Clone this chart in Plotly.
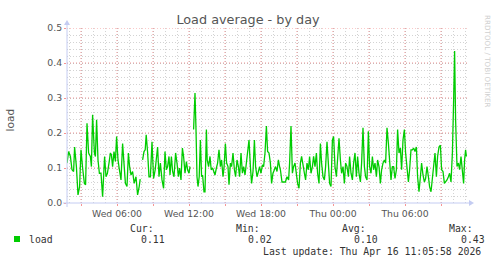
import plotly.graph_objects as go
import pandas as pd

# ---- data (minutes since Wed 2026-04-15 00:00, load average) ----
minutes = [
    110, 118, 127, 135, 143, 148, 157, 165, 173, 180, 188, 197, 203, 210, 218, 227, 232, 238, 247, 252,
    258, 265, 272, 280, 288, 293, 298, 305, 312, 320, 327, 332, 338, 345, 352, 358, 365, 372, 380, 388,
    395, 402, 410, 417, 423,
    430, 438, 446, 455, 463, 471, 476, 480, 488, 495, 501, 506, 513, 520, 527, 535, 543, 551, 563, 570,
    577, 585, 593, 600, 607, 613, 620, 625, 632, 638, 645, 653, 660, 667, 673, 680, 687, 693, 700, 707,
    713, 720, 725, 733, 743, 750, 755, 760, 765, 771, 777, 783, 788, 795, 800, 807, 811, 818, 825, 831,
    838, 845, 850, 857, 863, 870, 877, 883, 890, 895, 902, 908, 915, 920, 927, 933, 940, 947, 953, 960,
    967, 973, 980, 987, 993, 1000, 1005, 1013, 1020, 1027, 1033, 1040, 1047, 1053, 1060, 1067, 1073, 1080,
    1087, 1093, 1100, 1107, 1113, 1120, 1127, 1133, 1140, 1147, 1153, 1160, 1167, 1173,
    1177, 1185, 1193, 1202, 1210, 1218, 1223, 1230, 1237, 1243, 1250, 1257, 1263, 1270, 1277, 1283, 1290,
    1297, 1303, 1310, 1317, 1323, 1330, 1337, 1343, 1350, 1357, 1363, 1370, 1377, 1383, 1390, 1397, 1403,
    1410, 1417, 1423, 1430, 1437, 1443, 1450, 1457, 1463, 1470, 1477, 1483, 1490, 1497, 1503, 1510, 1517,
    1523, 1530, 1537, 1543, 1550, 1557, 1563, 1570, 1577, 1583, 1590, 1597, 1603, 1610, 1617, 1623, 1630,
    1637, 1643, 1650, 1657, 1663, 1670, 1677, 1683, 1690, 1697, 1703, 1710, 1717, 1723, 1730, 1737, 1743,
    1750, 1757, 1763, 1770, 1777, 1783, 1790, 1797, 1803, 1810, 1817, 1823, 1830, 1837, 1843, 1850, 1857,
    1863, 1870, 1877, 1883, 1890, 1897, 1903, 1910, 1917, 1923, 1930, 1937, 1943, 1950, 1957, 1963, 1970,
    1977, 1983, 1990, 1997, 2003, 2010, 2017, 2023, 2030, 2037, 2043, 2048, 2053, 2060, 2067, 2073, 2080,
    2087, 2093, 2098, 2103, 2107,
]
load = [
    0.114, 0.147, 0.133, 0.095, 0.090, 0.160, 0.104, 0.023, 0.047, 0.152, 0.100, 0.056, 0.052, 0.228, 0.143, 0.133, 0.104, 0.252, 0.143, 0.133,
    0.238, 0.123, 0.085, 0.085, 0.018, 0.075, 0.133, 0.075, 0.085, 0.114, 0.143, 0.138, 0.104, 0.147, 0.119, 0.190, 0.123, 0.095, 0.066, 0.170,
    0.095, 0.056, 0.047, 0.143, 0.104,
    0.080, 0.090, 0.056, 0.075, 0.023, 0.047, 0.068, None, 0.123, 0.147, 0.152, 0.195, 0.145, 0.075, 0.075, 0.175, 0.070, 0.095, 0.160, 0.075,
    0.114, 0.066, 0.042, 0.147, 0.095, 0.104, 0.133, 0.080, 0.133, 0.090, 0.075, 0.143, 0.114, 0.075, 0.100, 0.066, 0.157, 0.133, 0.085, 0.118,
    0.095, 0.085, 0.104, None, 0.210, 0.314, 0.210, 0.075, 0.047, 0.075, 0.180, 0.075, 0.080, 0.032, 0.032, 0.210, 0.123, 0.104, 0.133, 0.095,
    0.100, 0.090, 0.080, 0.100, 0.114, 0.152, 0.104, 0.123, 0.075, 0.100, 0.170, 0.114, 0.104, 0.052, 0.114, 0.104, 0.143, 0.095, 0.075, 0.123,
    0.104, 0.075, 0.143, 0.085, 0.104, 0.080, 0.104, 0.143, 0.180, 0.104, 0.056, 0.090, 0.180, 0.104, 0.075, 0.090, 0.104, 0.085,
    0.109, 0.104, 0.143, 0.220, 0.147, 0.143, 0.114, 0.056, 0.085, 0.095, 0.104, 0.090, 0.123, 0.104,
    0.095, 0.060, 0.060, 0.060, 0.075, 0.066, 0.114, 0.220, 0.085, 0.104, 0.114, 0.080, 0.056, 0.042, 0.114, 0.133, 0.104,
    0.085, 0.066, 0.114, 0.095, 0.133, 0.085, 0.104, 0.133, 0.104, 0.143, 0.085, 0.056, 0.170, 0.114, 0.075, 0.066, 0.104,
    0.175, 0.095, 0.056, 0.047, 0.180, 0.190, 0.104, 0.075, 0.123, 0.185, 0.123, 0.085, 0.104, 0.056, 0.114, 0.104, 0.075,
    0.133, 0.085, 0.066, 0.114, 0.143, 0.075, 0.133, 0.085, 0.060, 0.114, 0.215, 0.104, 0.075, 0.066, 0.205, 0.104, 0.085,
    0.133, 0.095, 0.114, 0.075, 0.123, 0.104, 0.056, 0.095, 0.114, 0.123, 0.114, 0.215, 0.170, 0.104, 0.066, 0.104, 0.104,
    0.070, 0.095, 0.210, 0.143, 0.157, 0.095, 0.180, 0.210, 0.143, 0.104, 0.060, 0.095, 0.152, 0.152, 0.157, 0.147, 0.160,
    0.075, 0.032, 0.075, 0.114, 0.080, 0.060, 0.070, 0.104, 0.075, 0.047, 0.032, 0.075, 0.114, 0.143, 0.075, 0.133, 0.160,
    0.165, 0.095, 0.090, 0.056, 0.060, 0.066, 0.075, 0.085, 0.060, 0.143, 0.290, 0.434, 0.238, 0.104, 0.114, 0.095, 0.133,
    0.085, 0.056, 0.123, 0.152, 0.133,
]

day0 = pd.Timestamp("2026-04-15 00:00")
times = [day0 + pd.Timedelta(minutes=m) for m in minutes]

x_range = ["2026-04-15 01:50", "2026-04-16 11:10"]
tick_times = ["2026-04-15 03:00", "2026-04-15 06:00", "2026-04-15 09:00", "2026-04-15 12:00",
              "2026-04-15 15:00", "2026-04-15 18:00", "2026-04-15 21:00", "2026-04-16 00:00",
              "2026-04-16 03:00", "2026-04-16 06:00", "2026-04-16 09:00"]
tick_labels = ["", "Wed 06:00", "", "Wed 12:00", "", "Wed 18:00", "", "Thu 00:00",
               "", "Thu 06:00", ""]
y_ticks = [0.0, 0.1, 0.2, 0.3, 0.4, 0.5]
y_labels = ["0.0", "0.1", "0.2", "0.3", "0.4", "0.5"]

title = "Load average - by day"
series_name = "load"
stat_names = ["Cur:", "Min:", "Avg:", "Max:"]
stat_values = ["0.11", "0.02", "0.10", "0.43"]
last_update = "Last update: Thu Apr 16 11:05:58 2026"
watermark = "RRDTOOL / TOBI OETIKER"

# ---- layout geometry (pixels) ----
W, H = 497, 264
L, R, T, B = 67, 467, 28, 203
PW, PH = R - L, B - T

def px(x):
    return (x - L) / PW

def py(y):
    return (B - y) / PH

GREEN = "#00CC00"
MGRID = "rgba(240,60,60,0.55)"
GRID = "rgba(150,150,150,0.42)"
AXIS = "#C4CCF2"
TXT = "#555555"
DASH = "1px,2px"

fig = go.Figure()
fig.add_trace(go.Scatter(
    x=times, y=load, mode="lines", line=dict(color=GREEN, width=1.3),
    connectgaps=False, showlegend=False, hoverinfo="skip",
))

fig.update_layout(
    width=W, height=H,
    margin=dict(l=L, r=W - R, t=T, b=H - B),
    paper_bgcolor="white", plot_bgcolor="white",
    showlegend=False,
    font=dict(family="DejaVu Sans", color=TXT),
    title=dict(text=title, x=(248 / W), xanchor="center", y=1 - 20 / H, yanchor="middle",
               font=dict(family="DejaVu Sans", size=12.8, color=TXT)),
)

fig.update_xaxes(
    type="date", range=x_range,
    tickmode="array", tickvals=tick_times, ticktext=tick_labels,
    showgrid=False,
    ticks="outside", ticklen=2, tickcolor=MGRID, tickwidth=1,
    tickfont=dict(family="DejaVu Sans", size=9.3, color=TXT),
    showline=False, zeroline=False,
    minor=dict(dtick=3600000, tick0="2026-04-15 00:00", showgrid=True,
               gridcolor=GRID, griddash=DASH, gridwidth=1),
)
fig.update_yaxes(
    range=[0, 0.5], tickmode="array", tickvals=y_ticks, ticktext=y_labels,
    showgrid=False,
    ticks="outside", ticklen=2, tickcolor=MGRID, tickwidth=1,
    tickfont=dict(family="DejaVu Sans", size=9.3, color=TXT),
    showline=False, zeroline=False,
    minor=dict(dtick=0.02, tick0=0, showgrid=True,
               gridcolor=GRID, griddash=DASH, gridwidth=1),
)

shapes = []
# major (red) grid lines at the labelled tick positions
for t in tick_times:
    shapes.append(dict(type="line", xref="x", yref="paper", x0=t, x1=t, y0=0, y1=1,
                       line=dict(color=MGRID, width=1, dash=DASH), layer="between"))
for v in y_ticks[1:]:
    shapes.append(dict(type="line", xref="paper", yref="y", x0=0, x1=1, y0=v, y1=v,
                       line=dict(color=MGRID, width=1, dash=DASH), layer="between"))
# axes with arrows
shapes += [
    dict(type="line", xref="paper", yref="paper", x0=px(63), x1=px(470), y0=py(B), y1=py(B),
         line=dict(color=AXIS, width=1), layer="above"),
    dict(type="path", xref="paper", yref="paper",
         path=f"M {px(469)} {py(B-3)} L {px(474)} {py(B)} L {px(469)} {py(B+3)} Z",
         fillcolor=AXIS, line=dict(color=AXIS, width=0), layer="above"),
    dict(type="line", xref="paper", yref="paper", x0=px(L), x1=px(L), y0=py(207), y1=py(24),
         line=dict(color=AXIS, width=1), layer="above"),
    dict(type="path", xref="paper", yref="paper",
         path=f"M {px(L-3)} {py(25)} L {px(L)} {py(20)} L {px(L+3)} {py(25)} Z",
         fillcolor=AXIS, line=dict(color=AXIS, width=0), layer="above"),
    # legend colour box
    dict(type="rect", xref="paper", yref="paper", x0=px(14), x1=px(20), y0=py(242), y1=py(236),
         fillcolor=GREEN, line=dict(color=GREEN, width=0)),
]
fig.update_layout(shapes=shapes)

MONO = "DejaVu Sans Mono"
ann = []
ann.append(dict(text=series_name, x=px(9.5), y=py(120), textangle=-90, showarrow=False,
                xref="paper", yref="paper", xanchor="center", yanchor="middle",
                font=dict(family="DejaVu Sans", size=10.6, color=TXT)))
ann.append(dict(text=watermark, x=px(488), y=py(61), textangle=90, showarrow=False,
                xref="paper", yref="paper", xanchor="center", yanchor="middle",
                font=dict(family="DejaVu Sans", size=7.2, color="#D0D0D0")))
ann.append(dict(text=series_name, x=px(26.5), y=py(239.5), showarrow=False,
                xref="paper", yref="paper", xanchor="left", yanchor="middle",
                font=dict(family=MONO, size=9.8, color="#333333")))
name_x = [127.5, 233.5, 339.5, 446.5]
val_x = [138.5, 245.5, 351.5, 458.5]
for nx, vx, n, v in zip(name_x, val_x, stat_names, stat_values):
    ann.append(dict(text=n, x=px(nx), y=py(228.3), showarrow=False, xref="paper", yref="paper",
                    xanchor="left", yanchor="middle", font=dict(family=MONO, size=9.8, color="#333333")))
    ann.append(dict(text=v, x=px(vx), y=py(239.5), showarrow=False, xref="paper", yref="paper",
                    xanchor="left", yanchor="middle", font=dict(family=MONO, size=9.8, color="#333333")))
ann.append(dict(text=last_update, x=px(482.5), y=py(251), showarrow=False, xref="paper", yref="paper",
                xanchor="right", yanchor="middle", font=dict(family=MONO, size=9.8, color="#333333")))
fig.update_layout(annotations=ann)

fig.write_html("out.html")
